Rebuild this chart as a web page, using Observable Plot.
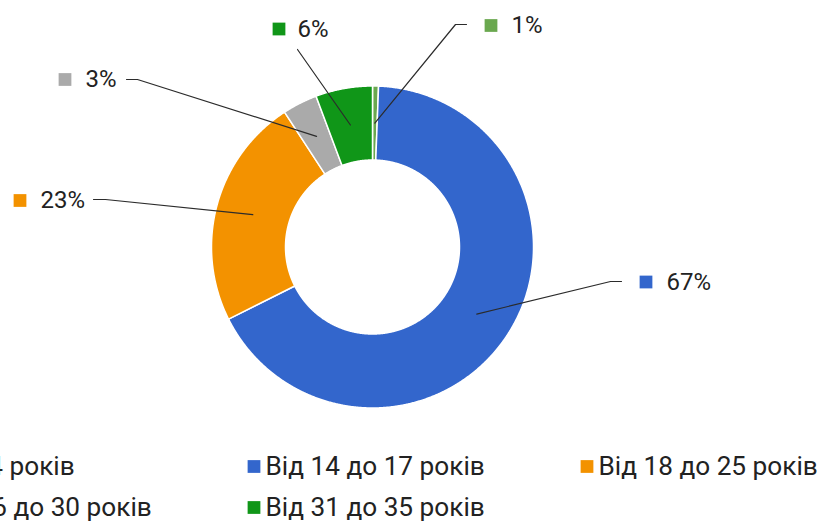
<!DOCTYPE html>
<html><head><meta charset="utf-8">
<script src="https://cdn.jsdelivr.net/npm/d3@7"></script>
<script src="https://cdn.jsdelivr.net/npm/@observablehq/plot@0.6"></script>
<style>html,body{margin:0;padding:0;background:#fff;overflow:hidden}</style>
</head><body><div id="chart"></div>
<script>
// ---- data ----
const categories = ["До 14 років", "Від 14 до 17 років", "Від 18 до 25 років", "Від 26 до 30 років", "Від 31 до 35 років"];
const values = [0.6, 67.0, 23.2, 3.5, 5.7];
const labels = ["1%", "67%", "23%", "3%", "6%"];
const colors = ["#6aa84f", "#3366cc", "#f39200", "#aaaaaa", "#109618"];

// ---- layout ----
const W = 819, H = 522;
const cx = 372, cy = 246.5, rOuter = 161, rInner = 87;
const labelLayout = [
  {elbow: [455, 24], end: [466, 24], box: 490.5, text: 511, y: 25},
  {elbow: [610, 281], end: [621, 281], box: 645.5, text: 666, y: 281.5},
  {elbow: [105, 199], end: [93, 199], box: 19.5, text: 40, y: 200},
  {elbow: [137, 79], end: [126, 79], box: 64.5, text: 85, y: 79},
  {elbow: [297, 49], end: [297, 49], box: 278.5, text: 297, y: 28.5}
];
const legendCol0 = -86, legendColStep = 333, legendRow0 = 466, legendRowStep = 41;

// ---- geometry from data ----
const arcs = d3.pie().sort(null).value(d => d)(values);
const pt = (a, r) => ({x: cx + r * Math.sin(a), y: cy - r * Math.cos(a)});
const slicePts = [];
arcs.forEach((a, i) => {
  const n = Math.max(4, Math.ceil((a.endAngle - a.startAngle) / 0.005));
  const poly = [];
  for (let k = 0; k <= n; k++) poly.push(pt(a.startAngle + (a.endAngle - a.startAngle) * k / n, rOuter));
  for (let k = n; k >= 0; k--) poly.push(pt(a.startAngle + (a.endAngle - a.startAngle) * k / n, rInner));
  poly.push(poly[0]);
  poly.forEach(p => slicePts.push({cat: categories[i], ...p}));
});

const leaderPts = [];
const labelData = [];
arcs.forEach((a, i) => {
  const mid = (a.startAngle + a.endAngle) / 2;
  const c = pt(mid, (rOuter + rInner) / 2);
  const L = labelLayout[i];
  leaderPts.push({cat: categories[i], x: c.x, y: c.y});
  leaderPts.push({cat: categories[i], x: L.elbow[0], y: L.elbow[1]});
  leaderPts.push({cat: categories[i], x: L.end[0], y: L.end[1]});
  labelData.push({cat: categories[i], label: labels[i], bx: L.box, tx: L.text, y: L.y});
});

const legendData = categories.map((c, i) => {
  const col = i % 3, row = Math.floor(i / 3);
  const x0 = legendCol0 + col * legendColStep;
  return {cat: c, bx: x0 + 6.5, tx: x0 + 18, y: legendRow0 + row * legendRowStep};
});

const chart = Plot.plot({
  width: W, height: H,
  marginTop: 0, marginRight: 0, marginBottom: 0, marginLeft: 0,
  x: {domain: [0, W], range: [0, W], axis: null},
  y: {domain: [0, H], range: [0, H], axis: null},
  color: {domain: categories, range: colors},
  style: {fontFamily: "Roboto", background: "#fff", overflow: "visible"},
  marks: [
    Plot.line(slicePts, {x: "x", y: "y", z: "cat", fill: "cat", stroke: "#ffffff", strokeWidth: 1.5, curve: "linear"}),
    Plot.line(leaderPts, {x: "x", y: "y", z: "cat", stroke: "#2b2b2b", strokeWidth: 1.2, curve: "linear"}),
    Plot.dot(labelData, {x: "bx", y: "y", symbol: "square", r: 7.2, fill: "cat", stroke: null}),
    Plot.text(labelData, {x: "tx", y: "y", text: "label", textAnchor: "start", fontSize: 24, fill: "#222222"}),
    Plot.dot(legendData, {x: "bx", y: "y", symbol: "square", r: 7.2, fill: "cat", stroke: null}),
    Plot.text(legendData, {x: "tx", y: "y", text: "cat", textAnchor: "start", fontSize: 26.2, fill: "#222222"})
  ]
});
document.getElementById("chart").appendChild(chart);
</script>
</body></html>
